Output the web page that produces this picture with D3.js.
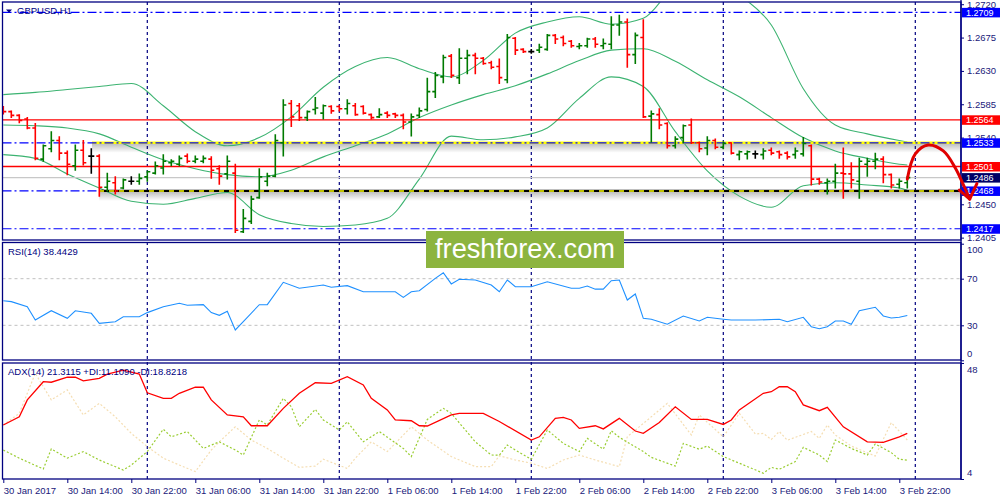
<!DOCTYPE html>
<html>
<head>
<meta charset="utf-8">
<script src="https://cdnjs.cloudflare.com/ajax/libs/d3/7.8.5/d3.min.js"></script>
<style>
  body { margin: 0; background: #fff; }
  svg { display: block; }
  text { font-family: "Liberation Sans", Arial, sans-serif; }
</style>
</head>
<body>
<svg id="chart" width="1000" height="500"></svg>
<script>
// GBPUSD H1, 30 Jan 2017 06:00 .. 3 Feb 2017 23:00 (one bar per hour)
const barOpen = [1.2580,1.2575,1.2570,1.2565,1.2553,1.2511,1.2525,1.2536,1.2519,1.2502,
  1.2523,1.2515,1.2515,1.2473,1.2479,1.2472,1.2481,1.2481,1.2487,1.2492,
  1.2499,1.2506,1.2504,1.2515,1.2508,1.2508,1.2511,1.2498,1.2491,1.2492,
  1.2413,1.2427,1.2459,1.2481,1.2488,1.2533,1.2586,1.2583,1.2567,1.2578,
  1.2573,1.2582,1.2582,1.2579,1.2583,1.2582,1.2571,1.2568,1.2573,1.2572,
  1.2570,1.2561,1.2570,1.2578,1.2602,1.2622,1.2650,1.2621,1.2647,1.2651,
  1.2647,1.2641,1.2636,1.2618,1.2674,1.2659,1.2656,1.2658,1.2659,1.2678,
  1.2675,1.2670,1.2663,1.2664,1.2673,1.2664,1.2666,1.2692,1.2696,1.2652,
  1.2675,1.2569,1.2571,1.2559,1.2529,1.2540,1.2557,1.2533,1.2526,1.2536,
  1.2527,1.2533,1.2517,1.2518,1.2518,1.2517,1.2523,1.2521,1.2519,1.2517,
  1.2518,1.2529,1.2484,1.2479,1.2481,1.2492,1.2491,1.2481,1.2504,1.2508,
  1.2511,1.2490,1.2477,1.2479];
const barHigh = [1.2582,1.2576,1.2571,1.2567,1.2559,1.2530,1.2548,1.2541,1.2522,1.2530,
  1.2536,1.2525,1.2517,1.2492,1.2487,1.2484,1.2487,1.2491,1.2495,1.2507,
  1.2517,1.2510,1.2515,1.2518,1.2515,1.2515,1.2514,1.2502,1.2515,1.2504,
  1.2443,1.2461,1.2498,1.2492,1.2544,1.2591,1.2590,1.2586,1.2576,1.2594,
  1.2584,1.2583,1.2583,1.2591,1.2586,1.2583,1.2572,1.2579,1.2575,1.2573,
  1.2572,1.2572,1.2580,1.2620,1.2628,1.2651,1.2652,1.2660,1.2658,1.2654,
  1.2648,1.2643,1.2646,1.2679,1.2675,1.2660,1.2659,1.2666,1.2679,1.2679,
  1.2677,1.2671,1.2667,1.2674,1.2675,1.2673,1.2703,1.2705,1.2700,1.2681,
  1.2699,1.2576,1.2579,1.2560,1.2541,1.2557,1.2565,1.2534,1.2541,1.2538,
  1.2534,1.2533,1.2522,1.2522,1.2522,1.2525,1.2526,1.2522,1.2521,1.2526,
  1.2540,1.2530,1.2485,1.2484,1.2504,1.2526,1.2506,1.2512,1.2512,1.2519,
  1.2514,1.2491,1.2484,1.2487];
const barLow = [1.2572,1.2567,1.2560,1.2552,1.2510,1.2508,1.2521,1.2510,1.2490,1.2496,
  1.2503,1.2492,1.2461,1.2468,1.2464,1.2471,1.2477,1.2477,1.2481,1.2491,
  1.2491,1.2502,1.2502,1.2506,1.2506,1.2506,1.2485,1.2477,1.2484,1.2412,
  1.2412,1.2424,1.2458,1.2475,1.2487,1.2515,1.2555,1.2563,1.2563,1.2572,
  1.2565,1.2573,1.2576,1.2572,1.2570,1.2572,1.2565,1.2567,1.2567,1.2567,
  1.2552,1.2542,1.2567,1.2576,1.2594,1.2614,1.2621,1.2613,1.2626,1.2626,
  1.2639,1.2633,1.2613,1.2614,1.2652,1.2655,1.2654,1.2655,1.2658,1.2667,
  1.2664,1.2662,1.2660,1.2662,1.2662,1.2660,1.2660,1.2678,1.2635,1.2640,
  1.2567,1.2534,1.2552,1.2526,1.2526,1.2533,1.2532,1.2521,1.2517,1.2525,
  1.2525,1.2518,1.2510,1.2511,1.2512,1.2511,1.2517,1.2512,1.2511,1.2512,
  1.2515,1.2476,1.2477,1.2464,1.2472,1.2458,1.2472,1.2458,1.2488,1.2498,
  1.2479,1.2472,1.2472,1.2472];
const barClose = [1.2575,1.2570,1.2563,1.2553,1.2512,1.2529,1.2536,1.2519,1.2504,1.2523,
  1.2506,1.2515,1.2473,1.2481,1.2468,1.2483,1.2481,1.2485,1.2494,1.2502,
  1.2508,1.2508,1.2512,1.2508,1.2511,1.2512,1.2496,1.2488,1.2508,1.2415,
  1.2431,1.2457,1.2487,1.2488,1.2536,1.2584,1.2568,1.2567,1.2575,1.2580,
  1.2583,1.2576,1.2579,1.2586,1.2571,1.2573,1.2567,1.2571,1.2570,1.2570,
  1.2561,1.2568,1.2576,1.2602,1.2624,1.2648,1.2624,1.2647,1.2651,1.2647,
  1.2640,1.2635,1.2621,1.2675,1.2658,1.2656,1.2656,1.2662,1.2678,1.2673,
  1.2667,1.2664,1.2664,1.2673,1.2666,1.2667,1.2692,1.2696,1.2652,1.2678,
  1.2568,1.2572,1.2557,1.2529,1.2538,1.2556,1.2533,1.2525,1.2536,1.2527,
  1.2532,1.2519,1.2521,1.2521,1.2518,1.2522,1.2519,1.2517,1.2514,1.2522,
  1.2532,1.2484,1.2480,1.2481,1.2492,1.2491,1.2483,1.2508,1.2508,1.2511,
  1.2490,1.2476,1.2481,1.2486];

// Bollinger bands (20) read every 4th bar
const bbBars = [0,4,8,12,16,20,24,28,32,36,40,44,48,52,56,60,64,68,72,76,80,84,88,92,96,100,104,108,112,113];
const bbUpper = [1.2598,1.2601,1.2605,1.2609,1.2613,1.2583,1.2548,1.2529,1.2540,1.2568,1.2608,1.2636,1.2648,1.2633,1.2622,
  1.2644,1.2681,1.2696,1.2703,1.2693,1.2701,1.2746,1.2766,1.2733,1.2692,1.2606,1.2557,1.2545,1.2536,1.2534];
const bbMiddle = [1.2557,1.2556,1.2553,1.2545,1.2527,1.2510,1.2498,1.2490,1.2487,1.2496,1.2514,1.2529,1.2545,1.2567,1.2584,
  1.2598,1.2610,1.2626,1.2644,1.2658,1.2660,1.2643,1.2618,1.2595,1.2567,1.2540,1.2522,1.2512,1.2504,1.2503];
const bbLower = [1.2517,1.2512,1.2491,1.2472,1.2454,1.2450,1.2458,1.2466,1.2436,1.2424,1.2420,1.2422,1.2431,1.2484,1.2542,
  1.2537,1.2541,1.2553,1.2593,1.2622,1.2609,1.2548,1.2495,1.2461,1.2446,1.2475,1.2479,1.2476,1.2472,1.2469];

// RSI(14)
const rsiBars = [0,1,3,4,6,8,9,11,12,14,15,17,18,20,22,23,25,26,27,28,29,30,32,33,35,37,40,41,43,45,
  49,50,51,52,54,55,56,57,59,61,62,63,64,66,68,71,72,73,74,75,76,77,78,79,80,81,83,85,87,88,
  90,91,94,97,98,100,101,102,103,104,105,106,107,109,110,111,112,113];
const rsiValues = [51.1,50.3,46.0,34.5,42.5,36.0,42.5,40.3,31.7,33.1,37.4,37.4,40.9,46.0,48.9,47.2,47.7,40.9,38.6,42.0,
  26.0,33.1,47.7,47.7,66.9,61.8,64.6,62.6,64.0,58.8,58.8,54.0,58.8,59.7,70.3,75.1,65.5,69.5,68.9,64.6,
  58.8,68.9,63.1,63.1,67.4,61.8,61.8,63.7,61.0,61.0,68.3,68.9,51.7,56.9,36.0,35.2,30.9,38.0,33.7,36.9,
  35.2,34.5,34.5,35.2,33.1,36.9,28.8,27.1,28.8,33.7,33.7,30.9,42.5,45.5,38.0,36.3,36.9,38.4];

// ADX(14), +DI, -DI
const adxBars = [0,2,3,5,6,8,9,10,12,13,15,17,18,20,21,22,24,25,26,28,30,31,33,35,37,39,41,43,45,46,
  48,49,51,52,53,56,57,60,62,66,67,69,70,71,72,74,75,77,79,80,82,84,86,88,90,91,92,95,96,97,
  98,99,100,102,103,105,108,110,112,113];
const adxValues = [24.5,27.6,34.0,40.9,40.7,42.6,42.6,41.2,42.2,43.8,45.3,43.8,36.7,34.6,34.6,36.5,38.8,38.8,34.0,28.3,
  27.6,24.2,24.2,30.8,36.5,40.5,40.3,42.8,39.7,34.6,30.2,26.4,26.1,24.2,24.1,28.3,28.9,28.9,25.8,18.8,
  20.0,27.0,27.4,26.4,23.2,24.2,23.0,27.0,22.2,21.3,25.4,31.4,26.6,26.6,24.7,26.4,30.2,36.5,37.1,39.0,
  39.0,37.1,32.1,29.9,31.2,23.8,18.1,17.9,20.0,21.3];
const plusDiBars = [0,2,5,6,8,10,12,15,16,18,20,21,23,25,27,29,30,32,33,35,36,37,39,40,42,43,45,47,50,51,
  53,55,56,59,61,62,63,64,66,68,70,72,73,75,76,77,80,81,84,85,87,88,90,92,95,96,97,99,100,102,
  103,104,106,108,109,111,112,113];
const plusDiValues = [15,11.9,7.8,15.4,11.9,14.4,11.2,7.4,9.3,14.4,22.9,20,22,15.6,18.1,15,13.1,26.4,24.5,34.6,
  31.4,23.8,30.4,26.4,22.6,25.7,18.1,22,15.6,12.5,26.6,30.8,28.9,18.1,13.1,13,16.9,15,11.5,22.6,
  17.5,14.4,19.4,15.3,22.3,19.8,14.4,12.2,8.9,17.5,15.3,16.5,12.5,10,6.2,8.4,7.7,10.6,16,13.1,
  10.6,18.8,15.6,13.1,17.3,14,11.5,11.1];
const minusDiBars = [0,2,4,6,8,10,12,14,16,18,20,22,24,26,27,29,31,33,35,37,39,40,43,44,46,48,51,53,56,59,
  61,62,64,66,68,70,72,74,77,78,81,83,86,87,90,92,94,95,96,97,98,101,102,103,104,106,109,111,113];
const minusDiValues = [24.5,28.9,44.1,34,37.8,28.3,32.7,27.6,21.3,16.3,11.9,9.3,6.8,15,18.1,23.8,18.8,15.6,11.9,8.4,
  8.9,11.5,8,11.9,18.1,14.4,23.8,18.8,12.5,8.7,8.7,12.8,11.2,10,8,11.2,13.1,11.2,8.7,20,
  27.6,32.7,20.7,28.3,20,28.9,21.1,21.3,19,22,18.7,22,19.4,24.5,20.7,16.5,12.7,25.4,18.8];

// horizontal levels and axis ticks
const levelPrices = [1.2709, 1.2564, 1.2533, 1.2501, 1.2486, 1.2468, 1.2417];
const levelKinds = ["blue", "red", "yellowTop", "red", "bid", "yellowBottom", "blue"];
const priceTicks = [1.2720, 1.2675, 1.2630, 1.2585, 1.2540, 1.2450, 1.2405];
const rsiTicks = [100, 70, 30, 0];
const rsiLevels = [70, 30];
const adxTicks = [48, 4];
const timeLabelBars = [0,8,16,24,32,40,48,56,64,72,80,88,96,104,112];
const timeLabels = ["30 Jan 2017","30 Jan 14:00","30 Jan 22:00","31 Jan 06:00","31 Jan 14:00","31 Jan 22:00",
  "1 Feb 06:00","1 Feb 14:00","1 Feb 22:00","2 Feb 06:00","2 Feb 14:00","2 Feb 22:00",
  "3 Feb 06:00","3 Feb 14:00","3 Feb 22:00"];
const daySeparatorBars = [18, 42, 66, 90, 114];

// forecast arrow (bar index, price)
const arrowBars = [113, 114, 115.6, 117.5, 119, 119.9, 120.8];
const arrowPrices = [1.2484, 1.2518, 1.2530, 1.2522, 1.2499, 1.2479, 1.2457];
const arrowHeadBars = [119.5, 120.8, 121.7];
const arrowHeadPrices = [1.2469, 1.2457, 1.2478];

const navy = "#000080";
const plotL = 2.5, plotR = 961;

const svg = d3.select("#chart");
svg.append("rect").attr("width", 1000).attr("height", 500).attr("fill", "#fff");

const x = d3.scaleLinear().domain([0, 114]).range([3.3, 915.3]);
const yPrice = d3.scaleLinear().domain([1.24018, 1.2723]).range([240, 2]);
const yRsi = d3.scaleLinear().domain([0, 100]).range([360.3, 243.7]);
const yAdx = d3.scaleLinear().domain([4, 48]).range([479, 363]);

const defs = svg.append("defs");
defs.append("clipPath").attr("id", "clipMain")
  .append("rect").attr("x", 3).attr("y", 2.5).attr("width", 958).attr("height", 237);
defs.append("clipPath").attr("id", "clipAdx")
  .append("rect").attr("x", 3).attr("y", 363.5).attr("width", 958).attr("height", 115);
const grad = defs.append("linearGradient").attr("id", "shade")
  .attr("x1", 0).attr("x2", 0).attr("y1", 0).attr("y2", 1);
grad.append("stop").attr("offset", "0%").attr("stop-color", "#000").attr("stop-opacity", 0.25);
grad.append("stop").attr("offset", "100%").attr("stop-color", "#000").attr("stop-opacity", 0);

// day separators across all panels
svg.append("g").selectAll("line")
  .data(daySeparatorBars).enter().append("line")
  .attr("x1", d => x(d)).attr("x2", d => x(d))
  .attr("y1", 2).attr("y2", 479)
  .attr("stroke", navy).attr("stroke-width", 1.2)
  .attr("stroke-dasharray", "3,3");

// ---------- main panel ----------
const main = svg.append("g").attr("clip-path", "url(#clipMain)");

// shadows under the two yellow trend levels
[[2, 92], [5, 99]].forEach(([k, x0]) => {
  main.append("rect")
    .attr("x", x0).attr("y", yPrice(levelPrices[k]) + 1)
    .attr("width", plotR - x0).attr("height", 9)
    .attr("fill", "url(#shade)");
});

const bbLine = vals => d3.line()
  .x((d, i) => x(bbBars[i]))
  .y(d => yPrice(d))
  .curve(d3.curveMonotoneX)(vals);
[bbUpper, bbMiddle, bbLower].forEach(vals => {
  main.append("path").attr("d", bbLine(vals))
    .attr("fill", "none").attr("stroke", "#3CB371").attr("stroke-width", 1.1);
});

const hline = (p, x0, x1, color, width, dash) => {
  main.append("line")
    .attr("x1", x0).attr("x2", x1)
    .attr("y1", yPrice(p)).attr("y2", yPrice(p))
    .attr("stroke", color).attr("stroke-width", width)
    .attr("stroke-dasharray", dash || null);
};
const dashDot = "9,3,2,3";
levelPrices.forEach((p, k) => {
  const kind = levelKinds[k];
  if (kind === "blue") hline(p, plotL, plotR, "#0000ff", 1.2, dashDot);
  if (kind === "red") hline(p, plotL, plotR, "#ff0000", 1.3);
  if (kind === "bid") hline(p, plotL, plotR, "#c8c8c8", 1.2);
  if (kind === "yellowTop") {
    hline(p, 92, plotR, "#ffff00", 2.6);
    hline(p, plotL, plotR, "#0000ff", 1.2, dashDot);
  }
  if (kind === "yellowBottom") {
    hline(p, plotL, 99, "#0000ff", 1.2, dashDot);
    hline(p, 99, plotR, "#000000", 2.2);
    hline(p, 99, plotR, "#ffff00", 1.6, "5,5");
  }
});

// OHLC bars
const barColor = i => barClose[i] > barOpen[i] ? "#007a00" : (barClose[i] < barOpen[i] ? "#ff0000" : "#000000");
const bars = main.append("g").selectAll("g")
  .data(d3.range(barOpen.length)).enter().append("g")
  .attr("stroke", i => barColor(i)).attr("stroke-width", 1.6);
bars.append("line")
  .attr("x1", i => x(i)).attr("x2", i => x(i))
  .attr("y1", i => yPrice(barHigh[i]) - 0.5).attr("y2", i => yPrice(barLow[i]) + 0.5);
bars.append("line")
  .attr("x1", i => x(i) - 3).attr("x2", i => x(i))
  .attr("y1", i => yPrice(barOpen[i])).attr("y2", i => yPrice(barOpen[i]));
bars.append("line")
  .attr("x1", i => x(i)).attr("x2", i => x(i) + 3)
  .attr("y1", i => yPrice(barClose[i])).attr("y2", i => yPrice(barClose[i]));

// title
svg.append("path").attr("d", "M6,9.5 L12,9.5 L9,12.8 Z").attr("fill", navy);
svg.append("text").attr("x", 17).attr("y", 14).attr("font-size", 9.5)
  .attr("fill", navy).text("GBPUSD,H1");

// ---------- RSI panel ----------
svg.append("g").selectAll("line").data(rsiLevels).enter().append("line")
  .attr("x1", plotL).attr("x2", plotR)
  .attr("y1", d => yRsi(d)).attr("y2", d => yRsi(d))
  .attr("stroke", "#c0c0c0").attr("stroke-dasharray", "3,3");
svg.append("path")
  .attr("d", d3.line().x((d, i) => x(rsiBars[i])).y(d => yRsi(d))(rsiValues))
  .attr("fill", "none").attr("stroke", "#1E90FF").attr("stroke-width", 1.1);
svg.append("text").attr("x", 8).attr("y", 255).attr("font-size", 9.5)
  .attr("fill", navy).text("RSI(14) 38.4429");

// ---------- ADX panel ----------
const adx = svg.append("g").attr("clip-path", "url(#clipAdx)");
const diLine = (bs, vs) => d3.line().x((d, i) => x(bs[i])).y(d => yAdx(d))(vs);
adx.append("path").attr("d", diLine(minusDiBars, minusDiValues))
  .attr("fill", "none").attr("stroke", "#F5DEB3").attr("stroke-width", 1.2).attr("stroke-dasharray", "2,2");
adx.append("path").attr("d", diLine(plusDiBars, plusDiValues))
  .attr("fill", "none").attr("stroke", "#9ACD32").attr("stroke-width", 1.2).attr("stroke-dasharray", "2,2");
adx.append("path").attr("d", diLine(adxBars, adxValues))
  .attr("fill", "none").attr("stroke", "#ff0000").attr("stroke-width", 1.3);
svg.append("text").attr("x", 8).attr("y", 375).attr("font-size", 9.5)
  .attr("fill", navy).text("ADX(14) 21.3115 +DI:11.1090 -DI:18.8218");

// ---------- frames ----------
[[2, 240], [242.5, 360], [363, 479]].forEach(([t, b]) => {
  svg.append("rect").attr("x", plotL).attr("y", t)
    .attr("width", plotR - plotL).attr("height", b - t)
    .attr("fill", "none").attr("stroke", navy).attr("stroke-width", 1.3);
});

// ---------- axes ----------
const styleAxis = g => {
  g.select(".domain").remove();
  g.selectAll(".tick line").attr("stroke", navy);
  g.selectAll(".tick text").attr("fill", "#20207a").attr("font-size", 9.5)
    .attr("font-family", "Liberation Sans, Arial, sans-serif");
};
svg.append("g").attr("transform", `translate(${plotR},0)`)
  .call(d3.axisRight(yPrice).tickValues(priceTicks).tickSize(3).tickPadding(3).tickFormat(d3.format(".4f")))
  .call(styleAxis);
const rsiAxis = svg.append("g").attr("transform", `translate(${plotR},0)`)
  .call(d3.axisRight(yRsi).tickValues(rsiTicks).tickSize(3).tickPadding(3))
  .call(styleAxis);
rsiAxis.selectAll(".tick text").attr("dy", d => d === 100 ? "0.9em" : (d === 0 ? "-0.4em" : "0.32em"));
const adxAxis = svg.append("g").attr("transform", `translate(${plotR},0)`)
  .call(d3.axisRight(yAdx).tickValues(adxTicks).tickSize(3).tickPadding(3))
  .call(styleAxis);
adxAxis.selectAll(".tick text").attr("dy", d => d === 48 ? "1.0em" : "-0.35em");

const timeAxis = svg.append("g").attr("transform", "translate(0,479)")
  .call(d3.axisBottom(x).tickValues(timeLabelBars).tickSize(4).tickPadding(2)
    .tickFormat((d, i) => timeLabels[i]))
  .call(styleAxis);
timeAxis.selectAll(".tick text").attr("text-anchor", "start").attr("x", 0).attr("dy", "0.95em");

svg.append("line").attr("x1", plotR).attr("x2", plotR).attr("y1", 0).attr("y2", 480)
  .attr("stroke", navy).attr("stroke-width", 1.3);

// level price tags
const tagColor = { blue: "#0000ff", red: "#ff0000", yellowTop: "#0000ff", yellowBottom: "#0000ff", bid: "#000066" };
const tags = svg.append("g").selectAll("g").data(levelPrices).enter().append("g")
  .attr("transform", d => `translate(${plotR + 1},${yPrice(d)})`);
tags.append("rect").attr("x", 0).attr("y", -4.5).attr("width", 39).attr("height", 9.5)
  .attr("fill", (d, k) => tagColor[levelKinds[k]]);
tags.append("text").attr("x", 4).attr("y", 3.3).attr("font-size", 9).attr("fill", "#fff")
  .text(d => d.toFixed(4));

// ---------- watermark ----------
svg.append("rect").attr("x", 426).attr("y", 231).attr("width", 198).attr("height", 37)
  .attr("fill", "#8cb43f");
svg.append("text").attr("x", 525).attr("y", 258).attr("text-anchor", "middle")
  .attr("font-family", "Open Sans, Noto Sans, sans-serif").attr("font-size", 27)
  .attr("textLength", 180).attr("lengthAdjust", "spacingAndGlyphs")
  .attr("fill", "#fff").text("freshforex.com");

// ---------- forecast arrow ----------
svg.append("path")
  .attr("d", d3.line().x((d, i) => x(arrowBars[i])).y(d => yPrice(d)).curve(d3.curveCatmullRom)(arrowPrices))
  .attr("fill", "none").attr("stroke", "#e00000").attr("stroke-width", 3).attr("stroke-linecap", "round");
svg.append("path")
  .attr("d", d3.line().x((d, i) => x(arrowHeadBars[i])).y(d => yPrice(d))(arrowHeadPrices))
  .attr("fill", "none").attr("stroke", "#e00000").attr("stroke-width", 3)
  .attr("stroke-linecap", "round").attr("stroke-linejoin", "round");
</script>
</body>
</html>
